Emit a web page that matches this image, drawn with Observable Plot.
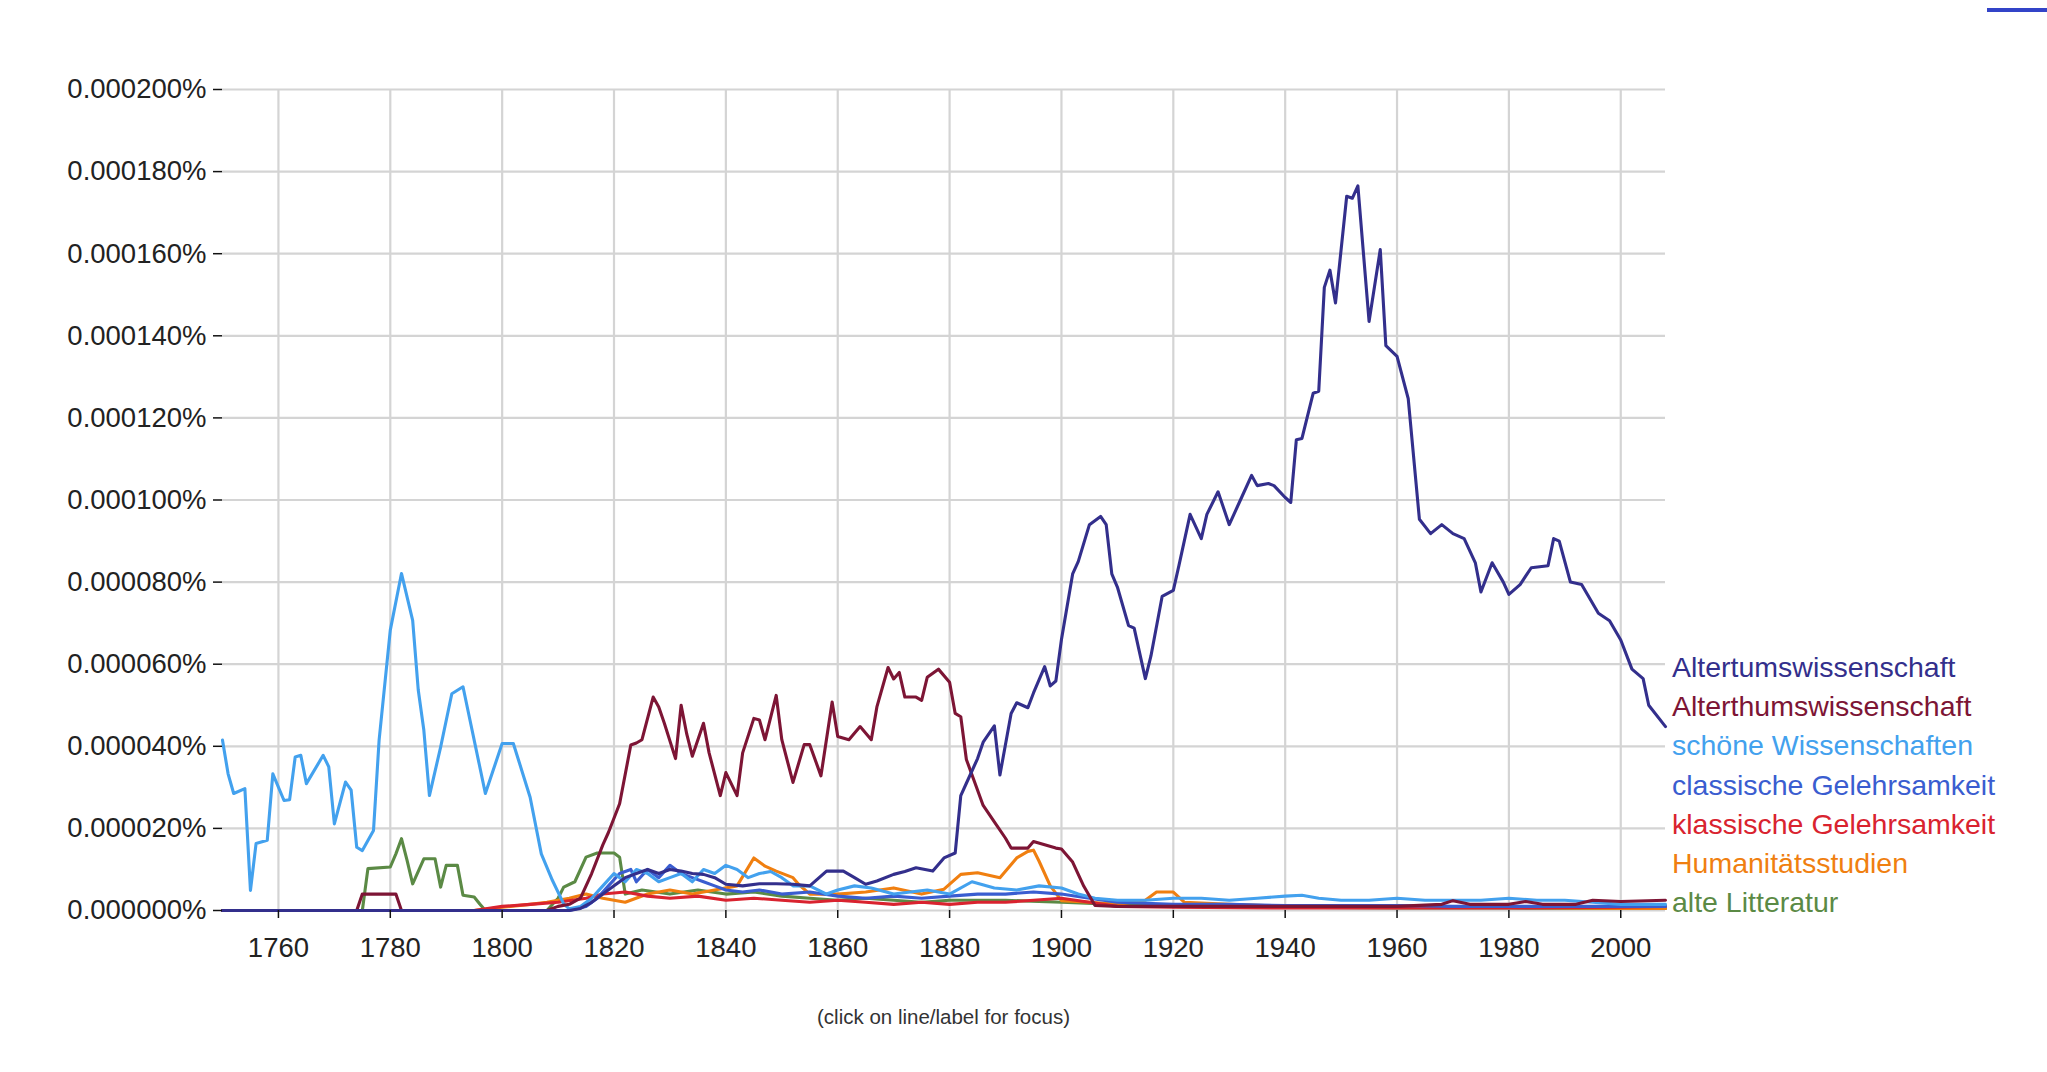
<!DOCTYPE html>
<html>
<head>
<meta charset="utf-8">
<script src="https://cdn.jsdelivr.net/npm/d3@7"></script>
<script src="https://cdn.jsdelivr.net/npm/@observablehq/plot@0.6"></script>
<style>
  html, body { margin: 0; padding: 0; background: #fff; }
  #wrap { position: relative; width: 2047px; height: 1072px; overflow: hidden; font-family: "Liberation Sans", Arial, sans-serif; }
  #legend { position: absolute; left: 1672px; top: 648px; font-size: 28.5px; line-height: 39.2px; white-space: nowrap; }
  #caption { position: absolute; left: 222px; width: 1443px; top: 1005px; text-align: center; font-size: 20.5px; color: #333; }
  #corner { position: absolute; left: 1987px; top: 8px; width: 60px; height: 4px; background: #3344c8; }
</style>
</head>
<body>
<div id="wrap">
  <div id="chart"></div>
  <div id="legend"></div>
  <div id="caption">(click on line/label for focus)</div>
  <div id="corner"></div>
</div>
<script>
// Values are in millionths of a percent (200 = 0.000200%)
const seriesNames = [
  "Altertumswissenschaft",
  "Alterthumswissenschaft",
  "schöne Wissenschaften",
  "classische Gelehrsamkeit",
  "klassische Gelehrsamkeit",
  "Humanitätsstudien",
  "alte Litteratur"
];
const seriesColors = ["#332f8c", "#7d1535", "#43a1ee", "#3a5dd0", "#d9232f", "#f07f10", "#5b8a45"];

const xTicks = [1760, 1780, 1800, 1820, 1840, 1860, 1880, 1900, 1920, 1940, 1960, 1980, 2000];
const yTicks = [0, 20, 40, 60, 80, 100, 120, 140, 160, 180, 200];

const altertumYears = [1750,1812,1814,1816,1818,1820,1822,1824,1826,1828,1830,1832,1834,1836,1838,1840,1843,1846,1849,1852,1855,1858,1861,1863,1865,1867,1870,1872,1874,1877,1879,1881,1882,1883,1885,1886,1888,1889,1891,1892,1894,1895,1897,1898,1899,1900,1902,1903,1905,1907,1908,1909,1910,1912,1913,1915,1916,1918,1920,1921,1923,1925,1926,1928,1930,1932,1934,1935,1937,1938,1940,1941,1942,1943,1945,1946,1947,1948,1949,1951,1952,1953,1955,1957,1958,1960,1962,1964,1966,1968,1970,1972,1974,1975,1977,1979,1980,1982,1984,1987,1988,1989,1991,1993,1996,1998,2000,2002,2004,2005,2008];
const altertumValues = [0,0,0.5,2,4,6,8,9,10,9,10,9.6,9,8.8,8,6.4,6,6.5,6.5,6.4,6,9.6,9.6,8,6.4,7.2,8.8,9.5,10.4,9.6,12.8,14,28,31,37,41,45,33,48,50.6,49.4,53,59.4,54.7,55.9,66,82,85,94,96,94,82,78.8,69.4,68.8,56.5,62,76.5,78,84,96.5,90.6,96.5,102,94,100,106,103.5,104,103.5,100.6,99.4,114.7,115,126,126.5,151.8,156,148,174,173.5,176.5,143.5,161,137.6,135,124.7,95.3,91.8,94,91.8,90.6,84.7,77.6,84.7,80,77,79.4,83.5,84,90.6,90,80,79.4,72.4,70.6,65.9,58.8,56.5,50,44.8];

const alterthumYears = [1750,1774,1775,1781,1782,1808,1810,1812,1814,1816,1818,1819,1821,1823,1824,1825,1827,1828,1829,1831,1832,1833,1834,1836,1837,1839,1840,1842,1843,1845,1846,1847,1849,1850,1852,1854,1855,1857,1859,1860,1862,1864,1866,1867,1869,1870,1871,1872,1874,1875,1876,1878,1880,1881,1882,1883,1886,1888,1890,1891,1894,1895,1897,1899,1900,1902,1904,1906,1910,1960,1968,1970,1973,1980,1983,1986,1992,1995,2000,2008];
const alterthumValues = [0,0,4,4,0,0,1,1.5,3,9,16,19,26,40.3,40.8,41.6,52,49.6,45.6,37,50,43,37.6,45.6,38.4,28,33.6,28,38.4,46.8,46.4,41.6,52.4,41.6,31.2,40.4,40.4,32.8,50.8,42.4,41.6,44.8,41.6,49.6,59.2,56.4,58,52,52,51.2,56.8,58.8,55.6,48,47.2,36.8,25.6,21.6,17.6,15.2,15.2,16.8,16,15.2,15,11.8,5.9,1.2,1,1,1.5,2.4,1.5,1.5,2.2,1.5,1.5,2.5,2.2,2.5];

const schoeneYears = [1750,1751,1752,1754,1755,1756,1758,1759,1761,1762,1763,1764,1765,1768,1769,1770,1772,1773,1774,1775,1777,1778,1780,1782,1784,1785,1786,1787,1789,1791,1793,1794,1797,1800,1802,1805,1807,1809,1811,1812,1814,1816,1818,1820,1822,1824,1826,1828,1830,1832,1834,1836,1838,1840,1842,1844,1846,1848,1850,1852,1855,1858,1860,1863,1866,1870,1873,1876,1880,1884,1888,1892,1896,1900,1903,1906,1910,1915,1920,1925,1930,1935,1940,1943,1946,1950,1955,1960,1965,1970,1975,1980,1985,1990,1995,2000,2008];
const schoeneValues = [41.5,33.3,28.5,29.7,4.9,16.3,17.1,33.3,26.8,27,37.4,37.8,30.9,37.8,35,21.1,31.3,29.3,15.4,14.6,19.5,41.5,68.3,82.1,70.7,53.7,43.9,28,39.8,52.8,54.5,48,28.5,40.7,40.7,27.6,13.8,7.3,1.6,0.4,1,3,6,9,7,10,9,7,8,9,7,10,9,11,10,8,9,9.5,8,6,6,4,5,6,5.5,4,4.5,5,4,7,5.5,5,6,5.5,4,3,2.5,2.5,3,3,2.5,3,3.5,3.7,3,2.5,2.5,3,2.5,2.5,2.5,3,2.5,2.5,2,1.5,1.5];

const classischeYears = [1750,1812,1815,1817,1819,1821,1823,1824,1826,1828,1830,1832,1834,1836,1838,1840,1843,1846,1850,1855,1860,1865,1870,1875,1880,1885,1890,1895,1900,1905,1910,1920,1930,1940,1950,1960,1970,1980,1990,2000,2008];
const classischeValues = [0,0,1,3,6,9,10,7,10,8,11,9,8,7,6,5,4.5,5,4,4.5,3.5,3,3.5,3,3.5,4,4,4.5,4,3,2,1.5,1.5,1.2,1.2,1.2,1,1,1,1,1];

const klassischeYears = [1750,1795,1800,1805,1810,1815,1818,1822,1826,1830,1835,1840,1845,1850,1855,1860,1865,1870,1875,1880,1885,1890,1895,1900,1905,1910,1920,1940,1960,1980,2000,2008];
const klassischeValues = [0,0,1,1.5,2,3,4,4.5,3.5,3,3.5,2.5,3,2.5,2,2.5,2,1.5,2,1.5,2,2,2.5,3,2,1,0.8,0.6,0.6,0.6,0.8,1];

const humanitaetYears = [1750,1795,1800,1805,1808,1812,1815,1818,1822,1826,1830,1834,1838,1842,1845,1847,1849,1852,1853,1855,1860,1865,1870,1875,1879,1882,1885,1889,1892,1894,1895,1896,1898,1900,1905,1910,1915,1917,1920,1922,1930,1940,1950,1960,1970,1980,1990,2000,2008];
const humanitaetValues = [0,0,0.8,1.5,2,3,4,3,2,4,5,4,5,6,12.8,10.8,9.6,8,6.4,4,4,4.5,5.5,4,5.2,8.8,9.2,8,12.8,14.4,14.7,12,6,2.4,2,1.5,2.5,4.5,4.5,2,1.5,1,1,0.8,0.8,0.8,0.6,0.5,0.5];

const alteYears = [1750,1775,1776,1780,1781,1782,1783,1784,1786,1788,1789,1790,1792,1793,1795,1796,1797,1808,1810,1811,1813,1815,1817,1820,1821,1822,1825,1830,1835,1840,1845,1850,1855,1860,1865,1870,1875,1880,1890,1900,1910,1920,1940,1960,1980,2000,2008];
const alteValues = [0,0,10.2,10.6,13.8,17.5,12.2,6.5,12.6,12.6,5.7,11,11,3.7,3.3,1.6,0,0,3,5.7,7,13,14,14,13,4,5,4,5,4,4.5,3.5,3,2.5,3,2.5,2,2.5,2.5,2,1.5,1,0.8,0.6,0.6,0.5,0.5];

const seriesYears = [altertumYears, alterthumYears, schoeneYears, classischeYears, klassischeYears, humanitaetYears, alteYears];
const seriesValues = [altertumValues, alterthumValues, schoeneValues, classischeValues, klassischeValues, humanitaetValues, alteValues];

// Build long table (draw last series first so the first one is on top)
const rows = [];
for (let s = seriesNames.length - 1; s >= 0; s--) {
  seriesYears[s].forEach((yr, i) => rows.push({series: seriesNames[s], year: yr, value: seriesValues[s][i]}));
}

const chart = Plot.plot({
  width: 2047,
  height: 1000,
  marginLeft: 222,
  marginRight: 382,
  marginTop: 89,
  marginBottom: 90,
  style: {fontFamily: "'Liberation Sans', Arial, sans-serif", fontSize: "27.5px", color: "#222", background: "transparent"},
  x: {domain: [1750, 2008]},
  y: {domain: [0, 200]},
  color: {domain: seriesNames, range: seriesColors},
  marks: [
    Plot.gridX(xTicks, {stroke: "#d4d4d4", strokeOpacity: 1, strokeWidth: 2.2}),
    Plot.gridY(yTicks, {stroke: "#d4d4d4", strokeOpacity: 1, strokeWidth: 2.2}),
    Plot.lineY(rows, {x: "year", y: "value", z: "series", stroke: "series", strokeWidth: 3.1, strokeLinejoin: "round"}),
    Plot.axisY(yTicks, {tickFormat: d => (d / 1e6).toFixed(6) + "%", tickSize: 9, tickPadding: 7, line: true, label: null, stroke: "#111", strokeWidth: 1.5, fill: "#222"}),
    Plot.axisX(xTicks, {tickFormat: d => String(d), tickSize: 8, tickPadding: 19, line: true, label: null, stroke: "#111", strokeWidth: 1.5, fill: "#222"})
  ]
});
document.getElementById("chart").appendChild(chart);

const legend = document.getElementById("legend");
seriesNames.forEach((name, i) => {
  const div = document.createElement("div");
  div.textContent = name;
  div.style.color = seriesColors[i];
  legend.appendChild(div);
});
</script>
</body>
</html>
